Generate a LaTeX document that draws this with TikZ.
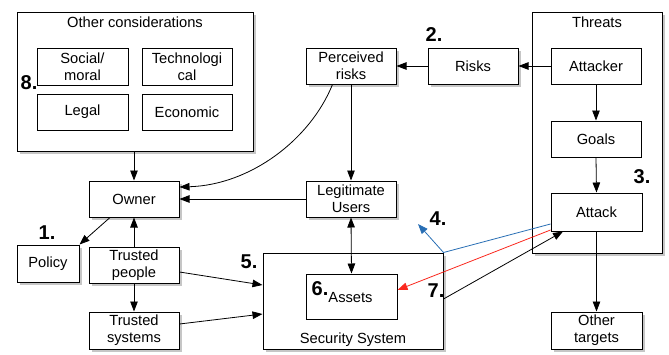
\documentclass[tikz,border=0pt]{standalone}
\usepackage{fontspec}
\setmainfont{Liberation Sans}
\usetikzlibrary{arrows.meta,shadows}
\begin{document}
\begin{tikzpicture}[x=1pt,y=-1pt,
  every node/.style={font=\fontsize{14.7}{17}\selectfont},
  plain/.style={draw=black,line width=1pt,fill=white,inner sep=0pt,align=center},
  box/.style={plain,drop shadow={shadow xshift=2.5pt,shadow yshift=-2.5pt,opacity=0.45}},
  num/.style={font=\fontsize{20}{22}\selectfont\bfseries,inner sep=0pt},
  arr/.style={line width=0.8pt,-{Triangle[length=10pt,width=7.5pt]}},
  darr/.style={line width=0.8pt,{Triangle[length=10pt,width=7.5pt]}-{Triangle[length=10pt,width=7.5pt]}}
]
\useasboundingbox (0,0) rectangle (669,354);
% outer containers
\node[box,minimum width=236pt,minimum height=139pt] (other) at (135,81.5) {};
\node[anchor=north] (othert) at (135,13) {Other considerations};
\node[box,minimum width=130pt,minimum height=241pt] (threats) at (597,132.5) {};
\node[anchor=north] (threatst) at (597,13) {Threats};
\node[box,minimum width=180pt,minimum height=96pt] (secsys) at (353,301) {};
\node (secsyst) at (353,340) {Security System};
% inner boxes of Other considerations
\node[plain,minimum width=91pt,minimum height=37pt] (social) at (82.5,66.5) {Social/\\moral};
\node[plain,minimum width=90pt,minimum height=37pt] (tech) at (187,66.5) {Technologi\\cal};
\node[plain,minimum width=91pt,minimum height=36pt] (legal) at (82.5,112) {Legal};
\node[plain,minimum width=90pt,minimum height=36pt] (econ) at (187,112) {Economic};
% threats inner
\node[plain,minimum width=90pt,minimum height=36pt] (attacker) at (596,66) {Attacker};
\node[plain,minimum width=90pt,minimum height=36pt] (goals) at (596,139) {Goals};
\node[plain,minimum width=91pt,minimum height=38pt] (attack) at (596.5,212) {Attack};
% other boxes
\node[box,minimum width=90pt,minimum height=36pt] (perc) at (351,66) {Perceived\\risks};
\node[box,minimum width=90pt,minimum height=36pt] (risks) at (473,66) {Risks};
\node[box,minimum width=90pt,minimum height=36pt] (owner) at (134,199) {Owner};
\node[box,minimum width=90pt,minimum height=36pt] (legit) at (351,199) {Legitimate\\Users};
\node[box,minimum width=62pt,minimum height=37pt] (policy) at (48,263.5) {Policy};
\node[box,minimum width=90pt,minimum height=36pt] (tpeople) at (134,265) {Trusted\\people};
\node[box,minimum width=90pt,minimum height=37pt] (tsys) at (134,330.5) {Trusted\\systems};
\node[box,minimum width=91pt,minimum height=37pt] (other2) at (596.5,330.5) {Other\\targets};
\node[plain,minimum width=91pt,minimum height=45pt] (assets) at (351.5,296.5) {};
\node (assetst) at (350.5,298) {Assets};
% numbers
\node[num] (n8) at (29,83) {8.};
\node[num] (n2) at (434,35) {2.};
\node[num] (n3) at (642,177) {3.};
\node[num] (n1) at (47,233) {1.};
\node[num] (n5) at (249,262) {5.};
\node[num] (n6) at (320,289) {6.};
\node[num] (n7) at (436,291) {7.};
\node[num] (n4) at (438,219) {4.};
% connectors
\draw[arr] (other.south -| owner.north) -- (owner.north);
\draw[arr] (perc.south) -- (legit.north);
\draw[arr] (risks.west) -- (perc.east);
\draw[arr] (attacker.west) -- (risks.east);
\draw[arr] (attacker.south) -- (goals.north);
\draw[arr] (goals.south) -- (attack.north);
\draw[arr] (attack.south) -- (other2.north);
\draw[arr] (legit.west) -- (owner.east);
\draw[arr] (perc.south west) ++(27,0) coordinate (pc)
  (pc) .. controls (310,140) and (250,185) .. (owner.east |- 0,187);
\draw[arr] (owner.south) ++(-24,0) coordinate (oc) (oc) -- (policy.north east);
\draw[arr] (tpeople.north) -- (owner.south);
\draw[arr] (tpeople.south) -- (tsys.north);
\draw[arr] (tpeople.east |- 0,272) -- (secsys.west |- 0,285);
\draw[arr] (tsys.east |- 0,324) -- (secsys.west |- 0,314);
\draw[darr] (legit.south) -- (assets.north);
\coordinate (c4) at (418,224);
\draw[line width=0.8pt,color={rgb,255:red,40;green,110;blue,180},-{Triangle[length=10pt,width=7.5pt]}]
  (attack.west |- 0,224) -- (secsys.north east) -- (c4);
\draw[line width=0.8pt,color={rgb,255:red,250;green,40;blue,30},-{Triangle[length=10pt,width=7.5pt]}]
  (attack.west |- 0,230) -- (assets.east |- 0,290);
\draw[arr] (secsys.east |- 0,299) -- (563,231.5);
\end{tikzpicture}
\end{document}
